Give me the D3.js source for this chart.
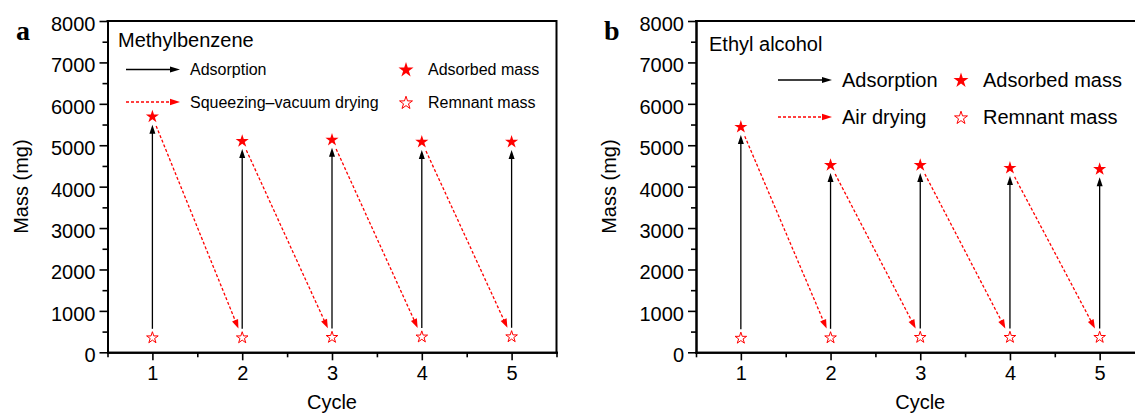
<!DOCTYPE html>
<html>
<head>
<meta charset="utf-8">
<script src="https://cdn.jsdelivr.net/npm/d3@7"></script>
<style>
  html, body { margin: 0; padding: 0; background: #fff; }
  svg { display: block; font-family: "Liberation Sans", Arial, sans-serif; }
</style>
</head>
<body>
<svg id="chart" width="1135" height="413"></svg>
<script>
// ---- data ----
const cycles = [1, 2, 3, 4, 5];
const methylAdsorbed = [5690, 5100, 5130, 5080, 5080];
const methylRemnant = [350, 350, 360, 370, 375];
const ethanolAdsorbed = [5440, 4520, 4520, 4450, 4420];
const ethanolRemnant = [340, 350, 360, 360, 360];

const yTickValues = [0, 1000, 2000, 3000, 4000, 5000, 6000, 7000, 8000];
const yMinorValues = [500, 1500, 2500, 3500, 4500, 5500, 6500, 7500];
const xTickValues = [1, 2, 3, 4, 5];
const xMinorValues = [0.5, 1.5, 2.5, 3.5, 4.5, 5.5];

const RED = "#ff0000";
const svg = d3.select("#chart");

// star symbol helper: outer radius r -> d3 symbol area
const starPath = r => d3.symbol(d3.symbolStar, (r * r) / 0.8908130915292852)();

function arrow(g, p0, p1, opt) {
  const dx = p1[0] - p0[0], dy = p1[1] - p0[1];
  const L = Math.hypot(dx, dy);
  const ux = dx / L, uy = dy / L;
  const s = [p0[0] + ux * opt.gap0, p0[1] + uy * opt.gap0];
  const t = [p1[0] - ux * opt.gap1, p1[1] - uy * opt.gap1];
  const hl = opt.headLen, hw = opt.headW / 2;
  const b = [t[0] - ux * hl, t[1] - uy * hl];
  g.append("line")
    .attr("x1", s[0]).attr("y1", s[1])
    .attr("x2", b[0] + ux * 1.5).attr("y2", b[1] + uy * 1.5)
    .attr("stroke", opt.color)
    .attr("stroke-width", opt.width)
    .attr("stroke-dasharray", opt.dash || null);
  g.append("path")
    .attr("d", `M${t[0]},${t[1]}L${b[0] - uy * hw},${b[1] + ux * hw}L${b[0] + uy * hw},${b[1] - ux * hw}Z`)
    .attr("fill", opt.color);
}

const solidArrow = { color: "#000", width: 1.3, headLen: 9, headW: 6 };
const dashArrow = { color: RED, width: 1.3, headLen: 9, headW: 6.5, dash: "3,2" };

function drawPanel(cfg) {
  const x = d3.scaleLinear().domain([0.5, 5.5]).range([cfg.left, cfg.right]);
  const y = d3.scaleLinear().domain([0, 8000]).range([352.3, 21]);
  const g = svg.append("g");

  // axes
  const xAxis = g.append("g").attr("transform", `translate(0,${y(0)})`)
    .call(d3.axisBottom(x).tickValues(xTickValues).tickSize(8).tickSizeOuter(0)
      .tickPadding(5.5).tickFormat(d3.format("d")));
  const xMinor = g.append("g").attr("transform", `translate(0,${y(0)})`)
    .call(d3.axisBottom(x).tickValues(xMinorValues).tickSize(5).tickSizeOuter(0).tickFormat(""));
  const yAxis = g.append("g").attr("transform", `translate(${x(0.5)},0)`)
    .call(d3.axisLeft(y).tickValues(yTickValues).tickSize(8).tickSizeOuter(0)
      .tickPadding(4).tickFormat(d3.format("d")));
  const yMinor = g.append("g").attr("transform", `translate(${x(0.5)},0)`)
    .call(d3.axisLeft(y).tickValues(yMinorValues).tickSize(5).tickSizeOuter(0).tickFormat(""));

  [xAxis, xMinor, yAxis, yMinor].forEach(a => {
    a.select(".domain").attr("stroke", "#000").attr("stroke-width", 2).attr("stroke-linecap", "square");
    a.selectAll(".tick line").attr("stroke", "#000").attr("stroke-width", 1.6);
    a.selectAll("text").attr("fill", "#000").attr("font-size", 20)
      .attr("font-family", "'Liberation Sans', Arial, sans-serif");
  });
  yAxis.selectAll("text").attr("dy", "0.47em");

  // frame: top and right borders
  g.append("path")
    .attr("d", `M${x(0.5)},${y(8000)}H${x(5.5)}V${y(0)}`)
    .attr("fill", "none").attr("stroke", "#000").attr("stroke-width", 2)
    .attr("stroke-linecap", "square");

  // axis titles
  g.append("text").attr("x", x(3)).attr("y", 409).attr("text-anchor", "middle")
    .attr("font-size", 20).text("Cycle");
  g.append("text")
    .attr("transform", `translate(${cfg.left - 80},${(y(0) + y(8000)) / 2}) rotate(-90)`)
    .attr("text-anchor", "middle").attr("font-size", 20).text("Mass (mg)");

  // panel tag
  g.append("text").attr("x", cfg.tagX).attr("y", 40)
    .attr("font-family", "'Liberation Serif', 'Times New Roman', serif")
    .attr("font-weight", "bold").attr("font-size", 28).text(cfg.tag);

  // cycle arrows
  const ads = cfg.adsorbed, rem = cfg.remnant;
  cycles.forEach((c, i) => {
    arrow(g, [x(c), y(rem[i])], [x(c), y(ads[i])], { ...solidArrow, gap0: 9, gap1: 8 });
    if (i < cycles.length - 1) {
      arrow(g, [x(c), y(ads[i])], [x(cycles[i + 1]), y(rem[i + 1])],
        { ...dashArrow, gap0: 10, gap1: 10 });
    }
  });

  // markers
  g.selectAll(".ads").data(cycles).join("path")
    .attr("d", starPath(6.9))
    .attr("transform", (c, i) => `translate(${x(c)},${y(ads[i])})`)
    .attr("fill", RED);
  g.selectAll(".rem").data(cycles).join("path")
    .attr("d", starPath(6.1))
    .attr("transform", (c, i) => `translate(${x(c)},${y(rem[i])})`)
    .attr("fill", "#fff").attr("stroke", RED).attr("stroke-width", 1);

  // legend
  const L = cfg.legend;
  g.append("text").attr("x", L.titleX).attr("y", L.titleY).attr("font-size", 20).text(cfg.title);
  arrow(g, [L.arrowX0, L.row1], [L.arrowX1, L.row1], { ...solidArrow, gap0: 0, gap1: 0, headLen: 10 });
  arrow(g, [L.arrowX0, L.row2], [L.arrowX1, L.row2], { ...dashArrow, gap0: 0, gap1: 0, headLen: 10 });
  g.append("text").attr("x", L.textX).attr("y", L.row1 + L.fs * 0.36).attr("font-size", L.fs).text("Adsorption");
  g.append("text").attr("x", L.textX).attr("y", L.row2 + L.fs * 0.36).attr("font-size", L.fs).text(cfg.dryLabel);
  g.append("path").attr("d", starPath(7.9))
    .attr("transform", `translate(${L.starX},${L.row1 + 0.5})`).attr("fill", RED);
  g.append("path").attr("d", starPath(6.8))
    .attr("transform", `translate(${L.starX},${L.row2 + 1})`)
    .attr("fill", "#fff").attr("stroke", RED).attr("stroke-width", 1);
  g.append("text").attr("x", L.starTextX).attr("y", L.row1 + L.fs * 0.36).attr("font-size", L.fs).text("Adsorbed mass");
  g.append("text").attr("x", L.starTextX).attr("y", L.row2 + L.fs * 0.36).attr("font-size", L.fs).text("Remnant mass");
}

drawPanel({
  left: 107.5, right: 556.5, tag: "a", tagX: 16,
  title: "Methylbenzene", dryLabel: "Squeezing\u2013vacuum drying",
  adsorbed: methylAdsorbed, remnant: methylRemnant,
  legend: { titleX: 118, titleY: 47, fs: 16, arrowX0: 126, arrowX1: 180, textX: 190,
            row1: 69.5, row2: 102, starX: 406, starTextX: 428 }
});

drawPanel({
  left: 696, right: 1144.5, tag: "b", tagX: 604,
  title: "Ethyl alcohol", dryLabel: "Air drying",
  adsorbed: ethanolAdsorbed, remnant: ethanolRemnant,
  legend: { titleX: 709, titleY: 51, fs: 20, arrowX0: 778, arrowX1: 832, textX: 842,
            row1: 80, row2: 117, starX: 961, starTextX: 983 }
});
</script>
</body>
</html>
